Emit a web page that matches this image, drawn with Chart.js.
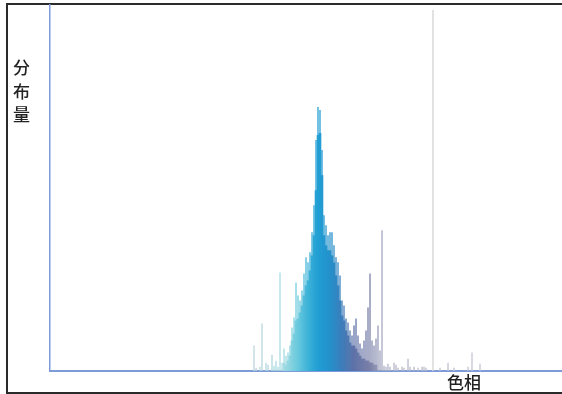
<!DOCTYPE html>
<html lang="zh">
<head>
<meta charset="UTF-8"/>
<title>色相分布</title>
<script src="https://cdn.jsdelivr.net/npm/chart.js"></script>
<style>
  html, body { margin: 0; padding: 0; background: #fff; overflow: hidden; }
  .wrap { position: relative; width: 562px; height: 394px; overflow: hidden; }
  .frame {
    position: absolute; left: 6px; top: 3px; width: 620px; height: 391px;
    box-sizing: border-box; border: 2px solid #2a2a2a;
  }
  canvas { position: absolute; left: 0; top: 0; }
  .ylab {
    position: absolute; left: 13px; top: 55px; width: 20px;
    font: 500 17px "Noto Sans CJK SC", sans-serif; line-height: 23.5px; color: #222;
  }
  .xlab {
    position: absolute; left: 447px; top: 369px;
    font: 500 17px "Noto Sans CJK SC", sans-serif; color: #222;
  }
</style>
</head>
<body>
<div class="wrap">
  <div class="frame"></div>
  <canvas id="c" width="562" height="394"></canvas>
  <div class="ylab">分<br>布<br>量</div>
  <div class="xlab">色相</div>
</div>
<script>
// hue bins (0-255) and distribution amounts
var bins = [102,103,105,106,108,109,111,112,113,114,115,116,117,118,119,120,
  121,122,123,124,125,126,127,128,129,130,131,132,133,134,135,136,137,138,139,140,
  141,142,143,144,145,146,147,148,149,150,151,152,153,154,155,156,157,158,159,160,
  161,162,163,164,165,166,167,168,169,170,172,173,174,176,177,179,180,182,184,186,
  187,188,195,199,202,209,211,215];
// peak of each bin (thin lines)
var peakVals = [25,3,4,47,8,6,16,5,10,4,98,8,22,15,18,25,
  43,53,88,75,70,80,97,113,108,118,138,165,230,263,260,220,155,145,135,138,
  138,125,113,108,95,70,65,52,48,40,35,45,52,35,27,22,30,40,63,97,
  30,25,32,45,20,140,5,4,7,4,8,6,3,4,3,12,4,4,3,4,
  4,3,3,8,3,4,18,7];
// dense body of each bin
var bodyVals = [0,0,0,0,0,0,0,0,0,0,0,0,8,6,10,15,
  30,37,50,52,58,65,75,85,90,100,115,135,180,235,237,195,135,125,120,120,
  115,108,95,85,70,55,50,40,35,28,25,25,22,18,15,12,12,10,10,8,
  8,6,6,0,0,0,0,0,0,0,0,0,0,0,0,0,0,0,0,0,
  0,0,0,0,0,0,0,0];
var markerBin = 191.5;

var stops = [[100,[190,210,218]],[117,[160,218,226]],[124,[100,200,220]],[130,[50,172,214]],
  [134,[28,156,210]],[140,[30,142,202]],[146,[55,122,185]],[152,[90,110,165]],
  [160,[118,124,165]],[168,[175,178,198]],[230,[200,200,212]]];
function hueColor(b, a) {
  for (var i = 1; i < stops.length; i++) {
    if (b <= stops[i][0]) {
      var p = stops[i-1], q = stops[i], t = (b - p[0]) / (q[0] - p[0]);
      var c = p[1].map(function(v, k) { return Math.round(v + (q[1][k] - v) * t); });
      return 'rgba(' + c.join(',') + ',' + a + ')';
    }
  }
  return 'rgba(200,200,212,' + a + ')';
}

var peakData = bins.map(function(b, i) { return {x: b, y: peakVals[i]}; });
var bodyData = bins.map(function(b, i) { return {x: b, y: bodyVals[i]}; });

var markerLine = {
  id: 'markerLine',
  beforeDatasetsDraw: function(chart) {
    var ctx = chart.ctx, xs = chart.scales.x, ys = chart.scales.y;
    var px = xs.getPixelForValue(markerBin);
    ctx.save();
    ctx.strokeStyle = '#d9d9d9';
    ctx.lineWidth = 1.5;
    ctx.beginPath();
    ctx.moveTo(px, ys.getPixelForValue(360));
    ctx.lineTo(px, ys.getPixelForValue(0));
    ctx.stroke();
    ctx.restore();
  }
};

new Chart(document.getElementById('c'), {
  type: 'bar',
  data: {
    datasets: [{
      label: 'peak',
      data: peakData,
      grouped: false,
      barThickness: 1,
      backgroundColor: bins.map(function(b) { return hueColor(b, 0.75); }),
      order: 2
    }, {
      label: 'body',
      data: bodyData,
      grouped: false,
      barThickness: 2,
      backgroundColor: bins.map(function(b) { return hueColor(b, 0.9); }),
      order: 1
    }]
  },
  options: {
    responsive: false,
    animation: false,
    layout: { padding: { left: 50, top: 5, right: 0, bottom: 23 } },
    plugins: { legend: { display: false }, tooltip: { enabled: false } },
    scales: {
      x: {
        type: 'linear', min: 0, max: 256, offset: false,
        ticks: { display: false },
        grid: { display: false, drawTicks: false, offset: false },
        border: { color: '#7c9bd8', width: 2 }
      },
      y: {
        min: 0, max: 365,
        ticks: { display: false },
        grid: { display: false, drawTicks: false },
        border: { color: '#7c9bd8', width: 1.5 }
      }
    }
  },
  plugins: [markerLine]
});
</script>
</body>
</html>
